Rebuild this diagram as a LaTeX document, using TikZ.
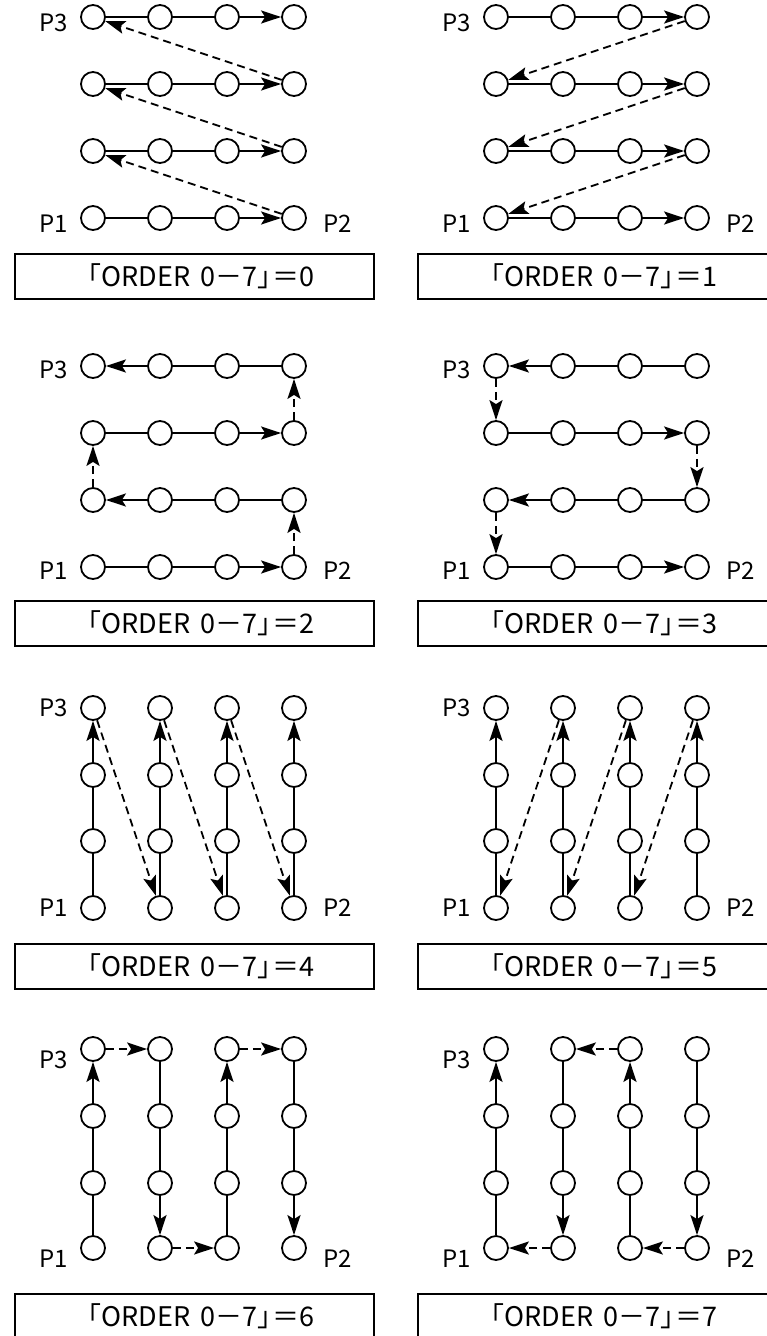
\documentclass[tikz,border=0pt]{standalone}
\usepackage{fontspec}
\setmainfont{Noto Sans CJK JP}
\usetikzlibrary{arrows.meta, positioning}

\tikzset{
  ponto/.style={draw, circle, fill=white, line width=1.8pt, minimum size=24pt, inner sep=0pt},
  linha/.style={line width=2.2pt},
  seta/.style={line width=2.2pt, -{Stealth[length=20pt,width=13pt,inset=4pt]}},
  retorno/.style={line width=1.8pt, dash pattern=on 8pt off 5pt, -{Stealth[length=20pt,width=13pt,inset=4pt]}},
  caixa/.style={draw, line width=1.5pt, minimum width=359pt, minimum height=45pt, inner sep=0pt, anchor=north west, font=\fontsize{27}{27}\selectfont},
  rotulo/.style={inner sep=0pt, font=\fontsize{24}{24}\selectfont}
}

\begin{document}
\begin{tikzpicture}[x=1pt, y=-1pt]
        \useasboundingbox (0,0) rectangle (767,1336);

        % Grades de pontos (r=1 embaixo, r=4 em cima)
        \foreach \k/\ox/\ya/\yb/\yc/\yd/\dy in {0/0/17/84/151/218/-6, 1/403/17/84/151/218/-6,
            2/0/366/433/500/567/-4, 3/403/366/433/500/567/-4,
            4/0/708/775/841/908/0, 5/403/708/775/841/908/0,
            6/0/1049/1116/1183/1248/-11, 7/403/1049/1116/1183/1248/-11} {
          \foreach \c in {1,...,4} {
            \node[ponto] (\k-\c-4) at ({\ox+93+67*(\c-1)},\ya) {};
            \node[ponto] (\k-\c-3) at ({\ox+93+67*(\c-1)},\yb) {};
            \node[ponto] (\k-\c-2) at ({\ox+93+67*(\c-1)},\yc) {};
            \node[ponto] (\k-\c-1) at ({\ox+93+67*(\c-1)},\yd) {};
          }
          \node[rotulo, left=12pt of \k-1-4, yshift=\dy pt] (p3-\k) {P3};
          \node[rotulo, left=12pt of \k-1-1, yshift=\dy pt] (p1-\k) {P1};
          \node[rotulo, right=16pt of \k-4-1, yshift=\dy pt] (p2-\k) {P2};
        }

        % ORDER 0
        \foreach \r in {1,...,4} {
          \draw[linha] (0-1-\r) -- (0-2-\r) -- (0-3-\r);
          \draw[seta] (0-3-\r) -- (0-4-\r);
        }
        \foreach \r/\s in {1/2, 2/3, 3/4}
          \draw[retorno] (0-4-\r) -- (0-1-\s);
        \node[caixa] (b0) at (14,253) {「ORDER\hspace{.15em} 0－7」\kern-.45em＝0};

        % ORDER 1
        \foreach \r in {1,...,4} {
          \draw[linha] (1-1-\r) -- (1-2-\r) -- (1-3-\r);
          \draw[seta] (1-3-\r) -- (1-4-\r);
        }
        \foreach \r/\s in {4/3, 3/2, 2/1}
          \draw[retorno] (1-4-\r) -- (1-1-\s);
        \node[caixa] (b1) at (417,253) {「ORDER\hspace{.15em} 0－7」\kern-.45em＝1};

        % ORDER 2
        \foreach \r in {1,3} {
          \draw[linha] (2-1-\r) -- (2-2-\r) -- (2-3-\r);
          \draw[seta] (2-3-\r) -- (2-4-\r);
        }
        \foreach \r in {2,4} {
          \draw[linha] (2-4-\r) -- (2-3-\r) -- (2-2-\r);
          \draw[seta] (2-2-\r) -- (2-1-\r);
        }
        \draw[retorno] (2-4-1) -- (2-4-2);
        \draw[retorno] (2-1-2) -- (2-1-3);
        \draw[retorno] (2-4-3) -- (2-4-4);
        \node[caixa] (b2) at (14,600) {「ORDER\hspace{.15em} 0－7」\kern-.45em＝2};

        % ORDER 3
        \foreach \r in {1,3} {
          \draw[linha] (3-1-\r) -- (3-2-\r) -- (3-3-\r);
          \draw[seta] (3-3-\r) -- (3-4-\r);
        }
        \foreach \r in {2,4} {
          \draw[linha] (3-4-\r) -- (3-3-\r) -- (3-2-\r);
          \draw[seta] (3-2-\r) -- (3-1-\r);
        }
        \draw[retorno] (3-1-4) -- (3-1-3);
        \draw[retorno] (3-4-3) -- (3-4-2);
        \draw[retorno] (3-1-2) -- (3-1-1);
        \node[caixa] (b3) at (417,600) {「ORDER\hspace{.15em} 0－7」\kern-.45em＝3};

        % ORDER 4
        \foreach \c in {1,...,4} {
          \draw[linha] (4-\c-1) -- (4-\c-2) -- (4-\c-3);
          \draw[seta] (4-\c-3) -- (4-\c-4);
        }
        \foreach \c/\d in {1/2, 2/3, 3/4}
          \draw[retorno] (4-\c-4) -- (4-\d-1);
        \node[caixa] (b4) at (14,943) {「ORDER\hspace{.15em} 0－7」\kern-.45em＝4};

        % ORDER 5
        \foreach \c in {1,...,4} {
          \draw[linha] (5-\c-1) -- (5-\c-2) -- (5-\c-3);
          \draw[seta] (5-\c-3) -- (5-\c-4);
        }
        \foreach \c/\d in {2/1, 3/2, 4/3}
          \draw[retorno] (5-\c-4) -- (5-\d-1);
        \node[caixa] (b5) at (417,943) {「ORDER\hspace{.15em} 0－7」\kern-.45em＝5};

        % ORDER 6
        \foreach \c in {1,3} {
          \draw[linha] (6-\c-1) -- (6-\c-2) -- (6-\c-3);
          \draw[seta] (6-\c-3) -- (6-\c-4);
        }
        \foreach \c in {2,4} {
          \draw[linha] (6-\c-4) -- (6-\c-3) -- (6-\c-2);
          \draw[seta] (6-\c-2) -- (6-\c-1);
        }
        \draw[retorno] (6-1-4) -- (6-2-4);
        \draw[retorno] (6-2-1) -- (6-3-1);
        \draw[retorno] (6-3-4) -- (6-4-4);
        \node[caixa] (b6) at (14,1293) {「ORDER\hspace{.15em} 0－7」\kern-.45em＝6};

        % ORDER 7
        \foreach \c in {1,3} {
          \draw[linha] (7-\c-1) -- (7-\c-2) -- (7-\c-3);
          \draw[seta] (7-\c-3) -- (7-\c-4);
        }
        \foreach \c in {2,4} {
          \draw[linha] (7-\c-4) -- (7-\c-3) -- (7-\c-2);
          \draw[seta] (7-\c-2) -- (7-\c-1);
        }
        \draw[retorno] (7-4-1) -- (7-3-1);
        \draw[retorno] (7-3-4) -- (7-2-4);
        \draw[retorno] (7-2-1) -- (7-1-1);
        \node[caixa] (b7) at (417,1293) {「ORDER\hspace{.15em} 0－7」\kern-.45em＝7};
\end{tikzpicture}
\end{document}
